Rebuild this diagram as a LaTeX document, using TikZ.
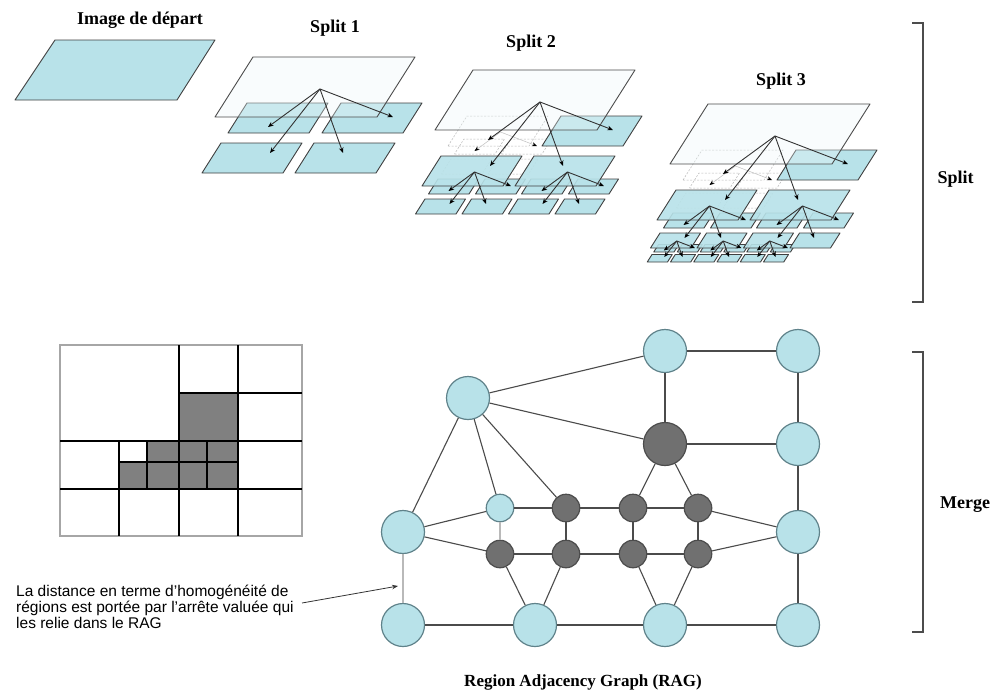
\documentclass[tikz,border=0pt]{standalone}
\usepackage{fontspec}
\setmainfont{Liberation Serif}
\newfontfamily\arialf{Liberation Sans}
\usetikzlibrary{arrows.meta}
\definecolor{cyanfill}{RGB}{184,226,233}
\definecolor{palefill}{RGB}{238,248,250}
\definecolor{edgegray}{RGB}{75,75,75}
\definecolor{nodeline}{RGB}{95,130,138}
\definecolor{darknode}{RGB}{112,112,112}
\definecolor{gridgray}{RGB}{128,128,128}

\newcommand\PG[1]{\path[#1] (0,0) -- (162,0) -- (200,-60) -- (38,-60) -- cycle;}
\newcommand\leafunit{\PG{leafst}}
\newcommand\ghostunit{%
  \PG{ghostst}%
  \begin{scope}[cTL]\PG{ghostst}\end{scope}%
  \begin{scope}[cTR]\PG{ghostst}\end{scope}%
  \begin{scope}[cBL]\PG{ghostst}\end{scope}%
  \begin{scope}[cBR]\PG{ghostst}\end{scope}%
  \coordinate (gap) at (105,-28);
  \coordinate (gtl) at (53,10);
  \coordinate (gtr) at (178,0);
  \draw[garr] (gap) -- (gtl);
  \draw[garr] (gap) -- (gtr);
}
\newcommand\splitunit[5]{%
  \begin{scope}[cTL]#2\end{scope}%
  \begin{scope}[cTR]#3\end{scope}%
  \begin{scope}[cBL]#4\end{scope}%
  \begin{scope}[cBR]#5\end{scope}%
  \PG{#1}%
  \coordinate (ap) at (105,-28);
  \coordinate (etl) at (53,10);
  \coordinate (etr) at (178,0);
  \coordinate (ebl) at (55,36);
  \coordinate (ebr) at (128,36);
  \draw[arr] (ap) -- (etl);
  \draw[arr] (ap) -- (etr);
  \draw[arr] (ap) -- (ebl);
  \draw[arr] (ap) -- (ebr);
}

\begin{document}
\begin{tikzpicture}[x=1pt,y=-1pt,
  cTL/.style={shift={(13,16)},scale=0.5},
  cTR/.style={shift={(107,16)},scale=0.5},
  cBL/.style={shift={(-13,56)},scale=0.5},
  cBR/.style={shift={(80,56)},scale=0.5},
  leafst/.style={fill=cyanfill, draw=black!75, line width=0.9pt, line join=round},
  topframe/.style={fill=palefill, fill opacity=0.35, draw=black!70, line width=0.9pt, line join=round},
  midframe/.style={fill=cyanfill, fill opacity=0.9, draw=black!75, line width=0.9pt, line join=round},
  ghostst/.style={draw=gray!55, line width=0.5pt, dash pattern=on 2pt off 1.5pt},
  arr/.style={draw=black!80, line width=0.9pt, -{Stealth[length=5.5pt,width=4.5pt,color=black]}},
  garr/.style={draw=gray!50, line width=0.5pt, -{Stealth[length=5pt,width=4pt,color=black]}},
  title/.style={font=\bfseries\fontsize{18}{20}\selectfont, anchor=base, inner sep=0pt},
  note/.style={font=\arialf\fontsize{15.5}{16}\selectfont, anchor=base west, inner sep=0pt},
  edge/.style={draw=edgegray, line width=1.1pt},
  ledge/.style={draw=gray!55, line width=1.1pt},
  big/.style={circle, minimum size=43pt, inner sep=0pt, draw=nodeline, fill=cyanfill, line width=1.2pt},
  bigdark/.style={circle, minimum size=43pt, inner sep=0pt, draw=black!70, fill=darknode, line width=1.2pt},
  small/.style={circle, minimum size=27.5pt, inner sep=0pt, draw=nodeline, fill=cyanfill, line width=1.2pt},
  smalldark/.style={circle, minimum size=27.5pt, inner sep=0pt, draw=black!70, fill=darknode, line width=1.2pt},
  thick grid/.style={draw=black, line width=2.8pt},
  bracket/.style={draw=black!70, line width=1.3pt}
]
\fill[white] (0,0) rectangle (999,691);
\useasboundingbox (0,0) rectangle (999,691);

% ---------- titles ----------
\node[title] (t0) at (140,24) {Image de départ};
\node[title] (t1) at (335,32) {Split 1};
\node[title] (t2) at (531,47) {Split 2};
\node[title] (t3) at (781,85) {Split 3};

% ---------- image de depart ----------
\path[leafst] (15,100) -- (177,100) -- (215,40) -- (55,40) -- cycle;

% ---------- split 1 ----------
\begin{scope}[shift={(215,117)}]
  \splitunit{topframe}{\leafunit}{\leafunit}{\leafunit}{\leafunit}
\end{scope}

% ---------- split 2 ----------
\begin{scope}[shift={(435,130)}]
  \splitunit{topframe}{\ghostunit}{\leafunit}%
    {\splitunit{midframe}{\leafunit}{\leafunit}{\leafunit}{\leafunit}}%
    {\splitunit{midframe}{\leafunit}{\leafunit}{\leafunit}{\leafunit}}
\end{scope}

% ---------- split 3 ----------
\begin{scope}[shift={(670,164)}]
  \splitunit{topframe}{\ghostunit}{\leafunit}%
    {\splitunit{midframe}{\leafunit}{\leafunit}%
        {\splitunit{midframe}{\leafunit}{\leafunit}{\leafunit}{\leafunit}}%
        {\splitunit{midframe}{\leafunit}{\leafunit}{\leafunit}{\leafunit}}}%
    {\splitunit{midframe}{\leafunit}{\leafunit}%
        {\splitunit{midframe}{\leafunit}{\leafunit}{\leafunit}{\leafunit}}%
        {\leafunit}}
\end{scope}

% ---------- brackets ----------
\draw[bracket] (912,23) -- (923,23) -- (923,302) -- (912,302);
\draw[bracket] (912,352) -- (923,352) -- (923,632) -- (912,632);
\node[title] (ls) at (955.5,183) {Split};
\node[title] (lm) at (965,508) {Merge};

% ---------- grid ----------
\fill[gridgray] (179,393) rectangle (238,441);
\fill[gridgray] (147,441) rectangle (238,462);
\fill[gridgray] (119,462) rectangle (238,489);
\draw[draw=gray!70, line width=1.2pt] (60,345) rectangle (302,536);
\draw[thick grid] (179,345) -- (179,536);
\draw[thick grid] (238,345) -- (238,536);
\draw[thick grid] (179,393) -- (302,393);
\draw[thick grid] (60,441) -- (302,441);
\draw[thick grid] (60,489) -- (302,489);
\draw[thick grid] (119,441) -- (119,536);
\draw[thick grid] (147,441) -- (147,489);
\draw[thick grid] (207,441) -- (207,489);
\draw[thick grid] (119,462) -- (238,462);

% ---------- RAG ----------
\node[big] (A) at (665,351) {};
\node[big] (B) at (798,351) {};
\node[big] (C) at (468,398) {};
\node[bigdark] (D) at (665,444) {};
\node[big] (E) at (798,444) {};
\node[big] (F) at (403,532) {};
\node[small] (G) at (500,508) {};
\node[smalldark] (d1) at (566,508) {};
\node[smalldark] (d2) at (633,508) {};
\node[smalldark] (d3) at (698,508) {};
\node[big] (H) at (798,532) {};
\node[smalldark] (e0) at (500,554) {};
\node[smalldark] (e1) at (566,554) {};
\node[smalldark] (e2) at (633,554) {};
\node[smalldark] (e3) at (698,554) {};
\node[big] (b1) at (403,625) {};
\node[big] (b2) at (535,625) {};
\node[big] (b3) at (665,625) {};
\node[big] (b4) at (798,625) {};

\draw[edge] (A) -- (B);
\draw[edge] (A) -- (C);
\draw[edge] (A) -- (D);
\draw[edge] (B) -- (E);
\draw[edge] (C) -- (D);
\draw[edge] (D) -- (E);
\draw[edge] (E) -- (H);
\draw[edge] (H) -- (b4);
\draw[edge] (C) -- (F);
\draw[edge] (C) -- (G);
\draw[edge] (C) -- (d1);
\draw[edge] (D) -- (d2);
\draw[edge] (D) -- (d3);
\draw[edge] (F) -- (G);
\draw[edge] (G) -- (d1);
\draw[edge] (d1) -- (d2);
\draw[edge] (d2) -- (d3);
\draw[edge] (d3) -- (H);
\draw[edge] (F) -- (e0);
\draw[edge] (e0) -- (e1);
\draw[edge] (e1) -- (e2);
\draw[edge] (e2) -- (e3);
\draw[edge] (e3) -- (H);
\draw[ledge] (G) -- (e0);
\draw[edge] (d1) -- (e1);
\draw[edge] (d2) -- (e2);
\draw[edge] (d3) -- (e3);
\draw[ledge] (F) -- (b1);
\draw[edge] (b1) -- (b2);
\draw[edge] (b2) -- (b3);
\draw[edge] (b3) -- (b4);
\draw[edge] (e0) -- (b2);
\draw[edge] (e1) -- (b2);
\draw[edge] (e2) -- (b3);
\draw[edge] (e3) -- (b3);

% ---------- annotation ----------
\node[note] (n1) at (16,596) {La distance en terme d’homogénéité de};
\node[note] (n2) at (16,612) {régions est portée par l’arrête valuée qui};
\node[note] (n3) at (16,628) {les relie dans le RAG};
\coordinate (annS) at (302,603);
\coordinate (annE) at (398,586);
\draw[draw=black!80, line width=0.8pt, -{Stealth[length=6pt,width=4.5pt]}] (annS) -- (annE);

\node[title, font=\bfseries\fontsize{17}{19}\selectfont] (rag) at (583,686) {Region Adjacency Graph (RAG)};
\end{tikzpicture}
\end{document}
